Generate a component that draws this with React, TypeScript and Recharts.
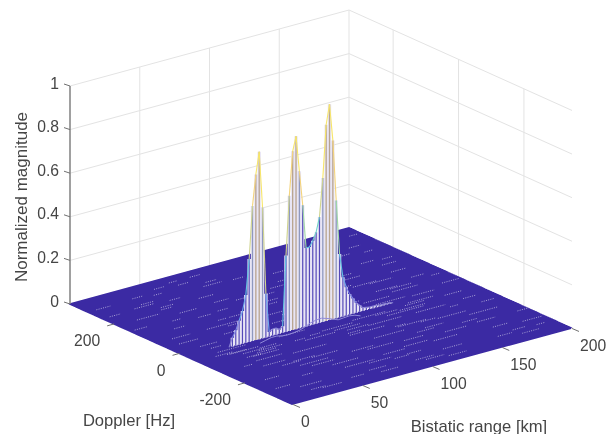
import { ComposedChart, Line, XAxis, YAxis } from "recharts";

const WIDTH = 610;
const HEIGHT = 434;

// axis ticks
const rangeTicks = [0, 50, 100, 150, 200];
const dopplerTicks = [200, 0, -200];
const magTicks = [0, 0.2, 0.4, 0.6, 0.8, 1];
const rangeGrid = [50, 100, 150];

// ridge: range bin [km] -> normalized magnitude
const rangeBins = [
  28, 30.4, 32.8, 35.2, 37.6, 40, 42.4, 44.8, 47.2, 49.6, 52, 54.4, 56.8, 59.2, 61.6, 64, 66.4,
  68.8, 71.2, 73.6, 76, 78.4, 80.8, 83.2, 85.6, 88, 90.4, 92.8, 95.2, 97.6, 100, 102.4, 104.8,
  107.2, 109.6, 112, 114.4, 116.8, 119.2, 121.6, 124, 126.4, 128.8, 131.2, 133.6, 136, 138.4,
  140.8, 143.2, 145.6,
];
const ridgeMag = [
  0.0, 0.04, 0.07, 0.11, 0.15, 0.22, 0.38, 0.62, 0.76, 0.86, 0.6, 0.2, 0.02, 0.03, 0.03, 0.02,
  0.03, 0.35, 0.62, 0.82, 0.885, 0.72, 0.56, 0.36, 0.36, 0.385, 0.42, 0.485, 0.66, 0.9, 0.99,
  0.82, 0.54, 0.29, 0.18, 0.13, 0.095, 0.07, 0.045, 0.03, 0.015, 0.012, 0.01, 0.01, 0.008, 0.006,
  0.006, 0.005, 0.004, 0.0,
];
const PEAK_DOPPLER = -32;
const warmStems = [8, 9, 19, 20, 29, 30, 31];
const tealStems = [7, 10, 18, 21, 28, 32];

// small sidelobe mounds in front of the peaks
const moundRange = [46, 50, 54, 58, 62, 66, 70, 74, 78, 82, 86, 90, 94, 98, 102, 106, 110, 114, 118];
const moundMag = [0, 0.006, 0.012, 0.012, 0.006, 0.004, 0.006, 0.01, 0.018, 0.03, 0.036, 0.038, 0.03, 0.02, 0.01, 0.012, 0.014, 0.01, 0];

// white gaps in the floor mesh: range km, doppler Hz, length km
const streakRange = [
  6, 14, 22, 9, 31, 18, 40, 27, 12, 52, 36, 21, 63, 44, 30, 71, 55, 16, 82, 38,
  60, 93, 25, 74, 48, 104, 33, 86, 58, 115, 42, 97, 69, 126, 20, 108, 78, 136, 51, 119,
  88, 147, 65, 130, 99, 158, 75, 141, 110, 168, 84, 152, 121, 178, 94, 163, 132, 185, 105, 173,
  143, 190, 116, 180, 150, 128, 170, 140, 160, 176, 148, 186, 122, 166, 100, 154, 135, 112, 156, 171,
  90, 138, 72, 124, 183, 61, 146, 80, 164, 37, 192, 102, 129, 155, 47, 175, 67, 118, 144, 188,
  3, 11, 19, 26, 35, 43, 50, 57, 66, 76, 85, 95, 107, 117, 127, 137, 149, 159, 169, 181,
  8, 16, 24, 33, 41, 49, 59, 68, 79, 89, 101, 111, 123, 133, 145, 157, 167, 179, 187, 193,
  5, 13, 29, 39, 53, 64, 77, 91, 103, 113, 125, 139, 151, 161, 172, 184, 23, 34, 46, 56,
  22, 28, 35, 30, 41, 86, 92, 98, 110, 125, 141, 148,
];
const streakDoppler = [
  280, 190, 110, 40, 250, -40, 170, -120, -210, 300, 70, -280, 210, 130, -310, 20, -170, 5, 270, -80,
  -250, 150, -150, 60, 235, -310, 285, -30, 95, 190, -190, 250, -90, -240, -60, 60, 160, -20, -130, 290,
  -200, 120, 310, -80, -300, 30, -260, 210, 105, -170, 45, -50, 230, 140, -120, 300, 0, -260, 170, -310,
  80, 40, -25, 250, -150, 120, 170, -215, 295, -60, 190, -130, -285, -250, 205, 75, -175, -100, 15, 280,
  -240, 265, -310, -140, 215, -45, -100, 310, -210, 215, 300, -160, 155, 240, -205, 100, 290, -320, 140, -290,
  150, 70, -15, -95, 205, -165, 95, -225, 175, -75, 120, -110, -230, 265, -185, 90, 35, -295, 225, -95,
  -260, -130, 240, -235, -30, 60, 135, -290, -190, 105, -265, 25, -135, 210, 280, -195, -115, 55, -5, -210,
  235, -55, 145, 30, -300, -80, 255, -270, 85, -205, 15, -145, 225, -25, -285, 165, -305, -170, 275, 35,
  -62, -75, -88, -98, -70, -70, -82, -95, -60, -66, -72, -58,
];
const streakLength = [
  10, 16, 8, 14, 9, 20, 12, 18, 10, 7, 22, 15, 11, 9, 14, 24, 19, 12, 8, 17,
  21, 10, 16, 23, 8, 13, 7, 25, 12, 9, 20, 8, 22, 17, 14, 18, 10, 21, 24, 7,
  19, 11, 6, 26, 13, 15, 16, 8, 12, 20, 22, 18, 9, 10, 25, 7, 19, 14, 11, 12,
  17, 6, 22, 8, 20, 13, 9, 15, 7, 12, 10, 9, 14, 11, 9, 16, 13, 24, 18, 7,
  15, 8, 12, 20, 6, 18, 21, 7, 13, 9, 6, 22, 10, 8, 16, 11, 7, 13, 12, 6,
  9, 13, 7, 11, 8, 15, 6, 19, 10, 7, 14, 9, 17, 6, 12, 8, 15, 10, 6, 9,
  11, 6, 14, 8, 17, 9, 7, 12, 16, 6, 10, 13, 8, 18, 7, 11, 6, 9, 12, 7,
  8, 12, 6, 15, 9, 7, 13, 10, 6, 14, 8, 11, 6, 16, 9, 7, 10, 13, 6, 12,
  20, 16, 14, 18, 12, 22, 18, 15, 24, 16, 18, 14,
];

const DOPPLER_MAX = 335;
const DOPPLER_MIN = -347;
const RANGE_MAX = 200;

const GRID = "#e3e3e3";
const FLOOR = "#3b2aa3";
const TEXT = "#454545";
const AXIS = "#808080";
const FONT = "'Liberation Sans', Arial, sans-serif";

// fixed MATLAB-style 3-D view, orthographic
function project(range: number, doppler: number, mag: number) {
  return {
    x: 70 + range * 1.395 + (DOPPLER_MAX - doppler) * 0.327,
    y: 304 - range * 0.38 + (DOPPLER_MAX - doppler) * 0.1473 - mag * 218,
  };
}

function parula(m: number) {
  if (m < 0.05) return "#8d86d6";
  if (m < 0.15) return "#7f88e6";
  if (m < 0.25) return "#6ea8ee";
  if (m < 0.4) return "#62c4e2";
  if (m < 0.5) return "#6ed3c8";
  if (m < 0.6) return "#9fd8a4";
  if (m < 0.7) return "#cfd48e";
  if (m < 0.85) return "#f4d47c";
  return "#f7e66a";
}

type Pt = { x: number; y: number | null };
type P3 = [number, number, number];

function segments(list: P3[][]) {
  const out: Pt[] = [];
  list.forEach((seg) => {
    seg.forEach(([r, d, m]) => out.push(project(r, d, m)));
    const last = out[out.length - 1];
    out.push({ x: last.x, y: null });
  });
  return out;
}

const wallGrid = segments([
  ...magTicks.map((m): P3[] => [
    [0, DOPPLER_MAX, m],
    [RANGE_MAX, DOPPLER_MAX, m],
    [RANGE_MAX, DOPPLER_MIN, m],
  ]),
  ...rangeGrid.map((r): P3[] => [
    [r, DOPPLER_MAX, 0],
    [r, DOPPLER_MAX, 1],
  ]),
  ...dopplerTicks.map((d): P3[] => [
    [RANGE_MAX, d, 0],
    [RANGE_MAX, d, 1],
  ]),
  [
    [RANGE_MAX, DOPPLER_MAX, 0],
    [RANGE_MAX, DOPPLER_MAX, 1],
  ],
]);

// floor is a tight zigzag of range lines, like the dense mesh
const floorLines: Pt[] = [];
for (let d = DOPPLER_MAX, i = 0; d >= DOPPLER_MIN; d -= 3.5, i++) {
  if (i % 2 === 0) {
    floorLines.push(project(0, d, 0), project(RANGE_MAX, d, 0));
  } else {
    floorLines.push(project(RANGE_MAX, d, 0), project(0, d, 0));
  }
}

const streaks = segments(
  streakRange.map((r, i): P3[] => [
    [r, streakDoppler[i], 0],
    [Math.min(r + streakLength[i], RANGE_MAX), streakDoppler[i], 0],
  ])
);

const stem = (i: number): P3[] => [
  [rangeBins[i], PEAK_DOPPLER, 0],
  [rangeBins[i], PEAK_DOPPLER, ridgeMag[i]],
];
const stemIdx = rangeBins.map((_, i) => i);
const faces = segments(stemIdx.map(stem));
const blueStems = segments(
  stemIdx.filter((i) => !warmStems.includes(i) && !tealStems.includes(i)).map(stem)
);
const orangeStems = segments(warmStems.map(stem));
const greenStems = segments(tealStems.map(stem));

const ridgeSegments = rangeBins.slice(1).map((r, i) => ({
  color: parula(Math.max(ridgeMag[i], ridgeMag[i + 1])),
  data: segments([
    [
      [rangeBins[i], PEAK_DOPPLER, ridgeMag[i]],
      [r, PEAK_DOPPLER, ridgeMag[i + 1]],
    ],
  ]),
}));

const mound = segments([moundRange.map((r, i): P3 => [r, -50, moundMag[i]])]);

const axisLines = segments([
  [
    [0, DOPPLER_MAX, 0],
    [0, DOPPLER_MAX, 1],
  ],
]);
const tickMarks: Pt[] = [];
magTicks.forEach((m) => {
  const p = project(0, DOPPLER_MAX, m);
  tickMarks.push({ x: p.x - 6, y: p.y - 2 }, p, { x: p.x, y: null });
});
dopplerTicks.forEach((d) => {
  const p = project(0, d, 0);
  tickMarks.push(p, { x: p.x - 7, y: p.y + 2 }, { x: p.x, y: null });
});
rangeTicks.forEach((r) => {
  const p = project(r, DOPPLER_MIN, 0);
  tickMarks.push(p, { x: p.x + 7, y: p.y + 3 }, { x: p.x, y: null });
});

const line = (key: string, data: Pt[], color: string, width: number, extra: object = {}) => (
  <Line
    key={key}
    data={data}
    dataKey="y"
    type="linear"
    stroke={color}
    strokeWidth={width}
    dot={false}
    activeDot={false}
    legendType="none"
    isAnimationActive={false}
    {...extra}
  />
);

const tickText = { fontFamily: FONT, fontSize: 15.7, fill: TEXT };

export default function App() {
  return (
    <div style={{ position: "absolute", left: 0, top: 0, width: WIDTH, height: HEIGHT, background: "#fff", filter: "blur(0.35px)" }}>
      <ComposedChart width={WIDTH} height={HEIGHT} margin={{ top: 0, right: 0, bottom: 0, left: 0 }} data={[]}>
        <XAxis type="number" dataKey="x" domain={[0, WIDTH]} hide allowDataOverflow />
        <YAxis type="number" domain={[0, HEIGHT]} reversed hide allowDataOverflow />
        {line("grid", wallGrid, GRID, 1)}
        {line("floor", floorLines, FLOOR, 1.8)}
        {line("streaks", streaks, "#ffffff", 0.8, { strokeDasharray: "1 1.3", strokeOpacity: 0.7 })}
        {line("faces", faces, "#e8e5f5", 3.4)}
        {line("stems", blueStems, "#5549b8", 1.2)}
        {line("stemsGreen", greenStems, "#8f98bf", 1.3)}
        {line("stemsOrange", orangeStems, "#b8a48f", 1.3)}
        {ridgeSegments.map((s, i) => line(`ridge${i}`, s.data, s.color, 1.1))}
        {line("mound", mound, "#8f88d8", 1)}
        {line("axis", axisLines, AXIS, 1.5)}
        {line("ticks", tickMarks, "#707070", 1)}
        {magTicks.map((m) => {
          const p = project(0, DOPPLER_MAX, m);
          return (
            <text key={m} x={59} y={p.y - 3} textAnchor="end" dominantBaseline="central" {...tickText}>
              {m}
            </text>
          );
        })}
        {dopplerTicks.map((d) => {
          const p = project(0, d, 0);
          return (
            <text key={d} x={p.x - 14} y={p.y + 17} textAnchor="end" dominantBaseline="central" {...tickText}>
              {d}
            </text>
          );
        })}
        {rangeTicks.map((r) => {
          const p = project(r, DOPPLER_MIN, 0);
          return (
            <text key={r} x={p.x + 8} y={p.y + 17} textAnchor="start" dominantBaseline="central" {...tickText}>
              {r}
            </text>
          );
        })}
        <text x={129} y={420} textAnchor="middle" dominantBaseline="central" {...tickText} fontSize={16.6}>
          Doppler [Hz]
        </text>
        <text x={479} y={426} textAnchor="middle" dominantBaseline="central" {...tickText} fontSize={16.6}>
          Bistatic range [km]
        </text>
        <text
          x={21}
          y={197}
          textAnchor="middle"
          dominantBaseline="central"
          transform="rotate(-90 21 197)"
          {...tickText}
          fontSize={17}
        >
          Normalized magnitude
        </text>
      </ComposedChart>
    </div>
  );
}
